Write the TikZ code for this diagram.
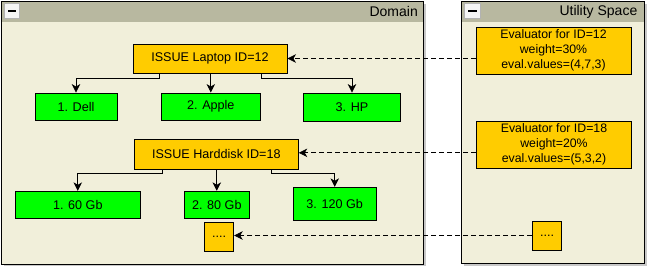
\documentclass[tikz,border=0pt]{standalone}
\usepackage{fontspec}
\setmainfont{Liberation Sans}
\usetikzlibrary{arrows.meta}
\definecolor{paneltop}{HTML}{B8B8A0}
\definecolor{panelbody}{HTML}{F1EFDA}
\definecolor{panelshade}{HTML}{C8C8C8}
\definecolor{issuefill}{HTML}{FFCC00}
\definecolor{valuefill}{HTML}{00FF00}
\tikzset{
  panel/.style={draw=black, line width=0.9pt, fill=panelbody},
  paneltitle/.style={anchor=east, inner sep=0pt, font=\fontsize{14}{16}\selectfont},
  issuebox/.style={draw=black, line width=0.9pt, fill=issuefill, inner sep=0pt,
    font=\fontsize{12.6}{15}\selectfont},
  valuebox/.style={draw=black, line width=0.9pt, fill=valuefill, inner sep=0pt,
    font=\fontsize{12.6}{15}\selectfont},
  evalbox/.style={issuebox, align=center, font=\fontsize{12.3}{15}\selectfont},
  tree/.style={line width=0.8pt, -{Stealth[length=8.5pt,width=8.5pt,inset=2.5pt]}},
  link/.style={line width=0.8pt, dash pattern=on 5pt off 3pt,
    -{Stealth[length=8.5pt,width=8.5pt,inset=2.5pt]}},
  minbtn/.style={fill=gray!8, draw=gray!60, line width=0.7pt},
}
\begin{document}
\begin{tikzpicture}[x=1pt, y=-1pt]
\useasboundingbox (0,0) rectangle (647,266);
\fill[white] (0,0) rectangle (647,266);

% Domain panel
\fill[panelshade] (4,4) rectangle (426,266);
\fill[panelbody] (1,1) rectangle (423,264);
\fill[paneltop] (1,1) rectangle (423,22);
\draw[line width=0.9pt] (1,1) rectangle (423,264);
\draw[minbtn] (4,3.5) rectangle (19,18.5);
\fill[black] (7.5,10) rectangle (16,12.2);
\node[paneltitle] (domaintitle) at (418,11.5) {Domain};

% Utility space panel
\fill[panelshade] (464,4) rectangle (647,266);
\fill[panelbody] (461,1) rectangle (644,263);
\fill[paneltop] (461,1) rectangle (644,22);
\draw[line width=0.9pt] (461,1) rectangle (644,263);
\draw[minbtn] (464,3.5) rectangle (480,18.5);
\fill[black] (467.5,10) rectangle (476.5,12.2);
\node[paneltitle] (utiltitle) at (637.5,11.5) {Utility Space};

% Issue: laptop
\node[issuebox, minimum width=154pt, minimum height=29pt] (laptop) at (210,58.5) {ISSUE Laptop ID=12};
\node[valuebox, minimum width=82pt, minimum height=27pt] (dell) at (76,106.5) {1. Dell};
\node[valuebox, minimum width=99pt, minimum height=27pt] (apple) at (210.8,106.5) {2. Apple};
\node[valuebox, minimum width=97pt, minimum height=28pt] (hp) at (352,107) {3. HP};

% Issue: harddisk
\node[issuebox, minimum width=164pt, minimum height=30pt] (harddisk) at (216.3,154.3) {ISSUE Harddisk ID=18};
\node[valuebox, minimum width=125pt, minimum height=27pt] (gb60) at (77.8,204.8) {1. 60 Gb};
\node[valuebox, minimum width=65pt, minimum height=27pt] (gb80) at (216.8,204.8) {2. 80 Gb};
\node[valuebox, minimum width=83pt, minimum height=33pt] (gb120) at (334.7,203.8) {3. 120 Gb};
\node[issuebox, minimum width=29.5pt, minimum height=29pt] (moreissues) at (219,236.8) {....};

% Evaluators
\node[evalbox, minimum width=155pt, minimum height=47pt] (eval12) at (553.5,50.8)
  {Evaluator for ID=12\\weight=30\%\\eval.values=(4,7,3)};
\node[evalbox, minimum width=155pt, minimum height=47pt] (eval18) at (554,144.5)
  {Evaluator for ID=18\\weight=20\%\\eval.values=(5,3,2)};
\node[issuebox, minimum width=29pt, minimum height=29pt] (moreevals) at (547,235.5) {....};

% Value trees
\draw[tree] ([xshift=-50.7pt]laptop.south) -- ++(0,4.5) -| (dell.north);
\draw[tree] (apple.north |- laptop.south) -- (apple.north);
\draw[tree] ([xshift=51.3pt]laptop.south) -- ++(0,4.5) -| (hp.north);
\draw[tree] ([xshift=-53.6pt]harddisk.south) -- ++(0,4) -| (gb60.north);
\draw[tree] (gb80.north |- harddisk.south) -- (gb80.north);
\draw[tree] ([xshift=55pt]harddisk.south) -- ++(0,4) -| (gb120.north);

% Evaluator links
\draw[link] (eval12.west |- laptop.east) -- (laptop.east);
\draw[link] ([yshift=1.5pt]eval18.west |- harddisk.east) -- ([yshift=1.5pt]harddisk.east);
\draw[link] (moreevals.west) -- (moreissues.east |- moreevals.west);
\end{tikzpicture}
\end{document}
